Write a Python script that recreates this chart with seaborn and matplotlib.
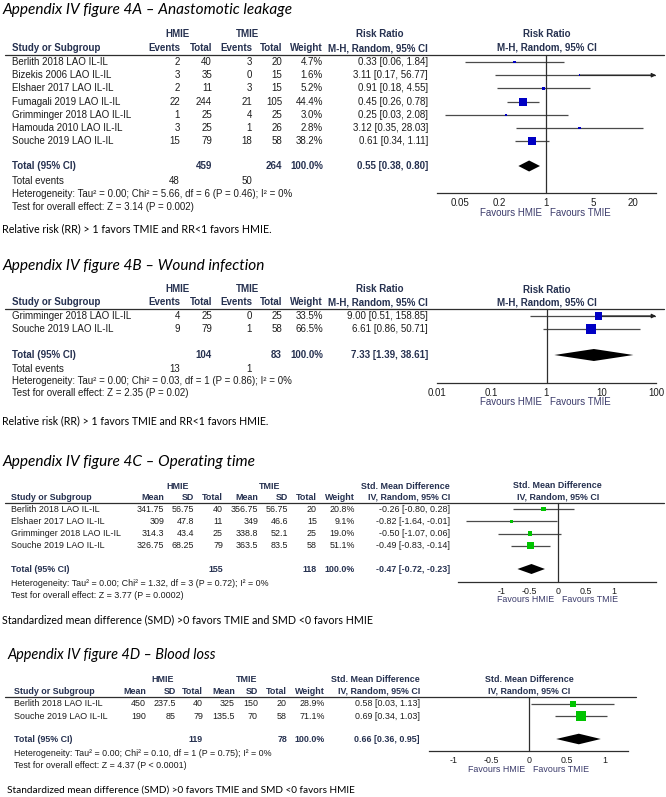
import matplotlib
matplotlib.use('Agg')
import matplotlib.pyplot as plt
from matplotlib.transforms import offset_copy
import seaborn as sns
import pandas as pd

sns.set_style('white')

W, H = 666, 797

# ---------------- 4A anastomotic leakage (risk ratio)
a_studies = ['Berlith 2018 LAO IL-IL', 'Bizekis 2006 LAO IL-IL', 'Elshaer 2017 LAO IL-IL',
             'Fumagali 2019 LAO IL-IL', 'Grimminger 2018 LAO IL-IL', 'Hamouda 2010 LAO IL-IL',
             'Souche 2019 LAO IL-IL']
a_hmie_events = [2, 3, 2, 22, 1, 3, 15]
a_hmie_total = [40, 35, 11, 244, 25, 25, 79]
a_tmie_events = [3, 0, 3, 21, 4, 1, 18]
a_tmie_total = [20, 15, 15, 105, 25, 26, 58]
a_weight = [4.7, 1.6, 5.2, 44.4, 3.0, 2.8, 38.2]
a_rr = [0.33, 3.11, 0.91, 0.45, 0.25, 3.12, 0.61]
a_lo = [0.06, 0.17, 0.18, 0.26, 0.03, 0.35, 0.34]
a_hi = [1.84, 56.77, 4.55, 0.78, 2.08, 28.03, 1.11]
a_pooled = [0.55, 0.38, 0.80]
a_sum_total = [459, 264]
a_sum_events = [48, 50]
a_het = 'Heterogeneity: Tau² = 0.00; Chi² = 5.66, df = 6 (P = 0.46); I² = 0%'
a_test = 'Test for overall effect: Z = 3.14 (P = 0.002)'
a_ticks = [0.05, 0.2, 1, 5, 20]
a_ticklabels = ['0.05', '0.2', '1', '5', '20']

# ---------------- 4B wound infection (risk ratio)
b_studies = ['Grimminger 2018 LAO IL-IL', 'Souche 2019 LAO IL-IL']
b_hmie_events = [4, 9]
b_hmie_total = [25, 79]
b_tmie_events = [0, 1]
b_tmie_total = [25, 58]
b_weight = [33.5, 66.5]
b_rr = [9.00, 6.61]
b_lo = [0.51, 0.86]
b_hi = [158.85, 50.71]
b_pooled = [7.33, 1.39, 38.61]
b_sum_total = [104, 83]
b_sum_events = [13, 1]
b_het = 'Heterogeneity: Tau² = 0.00; Chi² = 0.03, df = 1 (P = 0.86); I² = 0%'
b_test = 'Test for overall effect: Z = 2.35 (P = 0.02)'
b_ticks = [0.01, 0.1, 1, 10, 100]
b_ticklabels = ['0.01', '0.1', '1', '10', '100']

# ---------------- 4C operating time (SMD)
c_studies = ['Berlith 2018 LAO IL-IL', 'Elshaer 2017 LAO IL-IL',
             'Grimminger 2018 LAO IL-IL', 'Souche 2019 LAO IL-IL']
c_hmie_mean = [341.75, 309, 314.3, 326.75]
c_hmie_sd = [56.75, 47.8, 43.4, 68.25]
c_hmie_n = [40, 11, 25, 79]
c_tmie_mean = [356.75, 349, 338.8, 363.5]
c_tmie_sd = [56.75, 46.6, 52.1, 83.5]
c_tmie_n = [20, 15, 25, 58]
c_weight = [20.8, 9.1, 19.0, 51.1]
c_smd = [-0.26, -0.82, -0.50, -0.49]
c_lo = [-0.80, -1.64, -1.07, -0.83]
c_hi = [0.28, -0.01, 0.06, -0.14]
c_pooled = [-0.47, -0.72, -0.23]
c_sum_total = [155, 118]
c_het = 'Heterogeneity: Tau² = 0.00; Chi² = 1.32, df = 3 (P = 0.72); I² = 0%'
c_test = 'Test for overall effect: Z = 3.77 (P = 0.0002)'

# ---------------- 4D blood loss (SMD)
d_studies = ['Berlith 2018 LAO IL-IL', 'Souche 2019 LAO IL-IL']
d_hmie_mean = [450, 190]
d_hmie_sd = [237.5, 85]
d_hmie_n = [40, 79]
d_tmie_mean = [325, 135.5]
d_tmie_sd = [150, 70]
d_tmie_n = [20, 58]
d_weight = [28.9, 71.1]
d_smd = [0.58, 0.69]
d_lo = [0.03, 0.34]
d_hi = [1.13, 1.03]
d_pooled = [0.66, 0.36, 0.95]
d_sum_total = [119, 78]
d_het = 'Heterogeneity: Tau² = 0.00; Chi² = 0.10, df = 1 (P = 0.75); I² = 0%'
d_test = 'Test for overall effect: Z = 4.37 (P < 0.0001)'

smd_ticks = [-1, -0.5, 0, 0.5, 1]
smd_ticklabels = ['-1', '-0.5', '0', '0.5', '1']

RR_NOTE = 'Relative risk (RR) > 1 favors TMIE and RR<1 favors HMIE.'
SMD_NOTE = 'Standardized mean difference (SMD) >0 favors TMIE and SMD <0 favors HMIE'

INK = '#1c1c1c'
NAVY = '#263150'
FAV = '#3b3b6b'
LINE = '#2e2e2e'
BLUE = '#0000c4'
GREEN = '#00c400'

fig = plt.figure(figsize=(W / 100, H / 100), dpi=100)
bg = fig.add_axes([0, 0, 1, 1])
bg.set_xlim(0, W)
bg.set_ylim(H, 0)
bg.axis('off')
renderer = fig.canvas.get_renderer()


def txt(x, y, s, size, ha='left', bold=False, color=None):
    return bg.text(x, y, s, ha=ha, va='center', fontsize=size, family='Liberation Sans',
                   fontweight='bold' if bold else 'normal',
                   color=color or (NAVY if bold else INK))


def caption(x, y, s, width, italic=False):
    # Calibri is not available: scale Lato so the line keeps the original width
    t = bg.text(x, y, s, va='center', family='Lato', fontsize=10,
                style='italic' if italic else 'normal', color='black')
    w = t.get_window_extent(renderer).width
    t.set_fontsize(10 * width / w)


def ci(e, lo, hi):
    return f'{e:.2f} [{lo:.2f}, {hi:.2f}]'


def table(rows, rows_y, study_x, xs, size, bold=False):
    for r, y in zip(rows, rows_y):
        txt(study_x, y, r[0], size, bold=bold)
        for s, x in zip(r[1:], xs):
            if s != '':
                txt(x, y, s, size, ha='right', bold=bold)


def forest(x0, x1, y_top, y_axis, xlim, log, ref, rows_y, est, lo, hi, weight,
           pooled, pooled_y, color, box_px, dia_px, ticks, ticklabels, size,
           head1, head2, head_y, fav_y):
    ax = fig.add_axes([x0 / W, 1 - y_axis / H, (x1 - x0) / W, (y_axis - y_top) / H])
    ax.set_facecolor('none')
    if log:
        ax.set_xscale('log')
    for s in ['top', 'left', 'right']:
        ax.spines[s].set_visible(False)
    ax.spines['bottom'].set_color(LINE)
    ax.spines['bottom'].set_linewidth(0.9)

    lo_c = [max(v, xlim[0]) for v in lo]
    hi_c = [min(v, xlim[1]) for v in hi]
    ax.hlines(rows_y, lo_c, hi_c, color='#4a4a4a', lw=0.9, zorder=2)
    for y, e, v in zip(rows_y, est, hi):
        if v > xlim[1]:
            ax.annotate('', xy=(xlim[1], y), xytext=(e, y),
                        arrowprops=dict(arrowstyle='-|>', color='#222222', lw=0.9,
                                        mutation_scale=6, shrinkA=0, shrinkB=0))

    df = pd.DataFrame({'est': est, 'y': rows_y, 'w': weight})
    sns.scatterplot(data=df, x='est', y='y', size='w', sizes=(0.4, (box_px * 0.72) ** 2),
                    size_norm=(0, max(weight)), marker='s', color=color, edgecolor='none',
                    linewidth=0, legend=False, ax=ax, zorder=3, clip_on=False)

    e, l, h = pooled
    ax.fill([l, e, h, e], [pooled_y, pooled_y - dia_px, pooled_y, pooled_y + dia_px],
            color='black', lw=0, zorder=3)

    # line of no effect, from the header rule down to the axis
    ax.plot([ref, ref], [y_axis, y_top], color=LINE, lw=0.9, zorder=2.5, clip_on=False)

    ax.set_xlim(xlim)
    ax.set_ylim(y_axis, y_top)
    ax.set_xticks(ticks, ticklabels)
    ax.minorticks_off()
    ax.set_yticks([])
    ax.set_xlabel('')
    ax.set_ylabel('')
    ax.tick_params(axis='x', direction='inout', length=5, width=0.8, color=LINE,
                   labelsize=size, labelcolor=INK, pad=1)
    for lab in ax.get_xticklabels():
        lab.set_family('Liberation Sans')

    for s, y in zip([head1, head2], head_y):
        ax.text(ref, y, s, ha='center', va='center', fontsize=size, fontweight='bold',
                family='Liberation Sans', color=NAVY, clip_on=False)
    left = offset_copy(ax.transData, fig=fig, x=-4, y=0, units='dots')
    right = offset_copy(ax.transData, fig=fig, x=4, y=0, units='dots')
    ax.text(ref, fav_y, 'Favours HMIE', ha='right', va='center', fontsize=size,
            family='Liberation Sans', color=FAV, transform=left, clip_on=False)
    ax.text(ref, fav_y, 'Favours TMIE', ha='left', va='center', fontsize=size,
            family='Liberation Sans', color=FAV, transform=right, clip_on=False)
    return ax


# ======================= panel A
fs = 7
caption(3, 10, 'Appendix IV figure 4A – Anastomotic leakage', 290, italic=True)
xs = [180, 212, 252, 282, 323, 428]
txt(178, 34, 'HMIE', fs, ha='center', bold=True)
txt(248, 34, 'TMIE', fs, ha='center', bold=True)
txt(380, 34, 'Risk Ratio', fs, ha='center', bold=True)
table([['Study or Subgroup', 'Events', 'Total', 'Events', 'Total', 'Weight',
        'M-H, Random, 95% CI']], [48], 12, xs, fs, bold=True)
bg.plot([5, 664], [55, 55], color=LINE, lw=0.9)
rows_y = [62 + 13.2 * i for i in range(len(a_studies))]
table([[s, str(a), str(b), str(c), str(d), f'{w:.1f}%', ci(e, l, h)]
       for s, a, b, c, d, w, e, l, h in zip(a_studies, a_hmie_events, a_hmie_total,
                                             a_tmie_events, a_tmie_total, a_weight,
                                             a_rr, a_lo, a_hi)], rows_y, 12, xs, fs)
table([['Total (95% CI)', '', str(a_sum_total[0]), '', str(a_sum_total[1]), '100.0%',
        ci(*a_pooled)]], [166], 12, xs, fs, bold=True)
table([['Total events', str(a_sum_events[0]), '', str(a_sum_events[1])]], [181], 12, xs, fs)
txt(12, 194, a_het, fs)
txt(12, 207, a_test, fs)
caption(2, 229, RR_NOTE, 266)
forest(437, 656, 55, 193, (0.023, 43.6), True, 1, rows_y, a_rr, a_lo, a_hi, a_weight,
       a_pooled, 166, BLUE, 8, 5.5, a_ticks, a_ticklabels, fs,
       'Risk Ratio', 'M-H, Random, 95% CI', [34, 48], 213)

# ======================= panel B
caption(3, 266, 'Appendix IV figure 4B – Wound infection', 263, italic=True)
txt(178, 289, 'HMIE', fs, ha='center', bold=True)
txt(248, 289, 'TMIE', fs, ha='center', bold=True)
txt(380, 289, 'Risk Ratio', fs, ha='center', bold=True)
table([['Study or Subgroup', 'Events', 'Total', 'Events', 'Total', 'Weight',
        'M-H, Random, 95% CI']], [302], 12, xs, fs, bold=True)
bg.plot([5, 664], [309, 309], color=LINE, lw=0.9)
rows_y = [316 + 13.4 * i for i in range(len(b_studies))]
table([[s, str(a), str(b), str(c), str(d), f'{w:.1f}%', ci(e, l, h)]
       for s, a, b, c, d, w, e, l, h in zip(b_studies, b_hmie_events, b_hmie_total,
                                             b_tmie_events, b_tmie_total, b_weight,
                                             b_rr, b_lo, b_hi)], rows_y, 12, xs, fs)
table([['Total (95% CI)', '', str(b_sum_total[0]), '', str(b_sum_total[1]), '100.0%',
        ci(*b_pooled)]], [355], 12, xs, fs, bold=True)
table([['Total events', str(b_sum_events[0]), '', str(b_sum_events[1])]], [369], 12, xs, fs)
txt(12, 381, b_het, fs)
txt(12, 393, b_test, fs)
caption(2, 421, RR_NOTE, 265)
forest(437, 656, 309, 383, (0.01, 100), True, 1, rows_y, b_rr, b_lo, b_hi, b_weight,
       b_pooled, 355, BLUE, 10, 6, b_ticks, b_ticklabels, fs,
       'Risk Ratio', 'M-H, Random, 95% CI', [290, 303], 402)

# ======================= panel C
fs = 6.4
caption(2, 462, 'Appendix IV figure 4C – Operating time', 253, italic=True)
xs = [164, 194, 223, 258, 288, 317, 355, 450]
txt(178, 486, 'HMIE', fs, ha='center', bold=True)
txt(270, 486, 'TMIE', fs, ha='center', bold=True)
txt(405, 486, 'Std. Mean Difference', fs, ha='center', bold=True)
table([['Study or Subgroup', 'Mean', 'SD', 'Total', 'Mean', 'SD', 'Total', 'Weight',
        'IV, Random, 95% CI']], [497], 11, xs, fs, bold=True)
bg.plot([5, 664], [503, 503], color=LINE, lw=0.9)
rows_y = [509 + 12.3 * i for i in range(len(c_studies))]
table([[s, f'{a:g}', f'{b:g}', str(c), f'{d:g}', f'{e2:g}', str(f), f'{w:.1f}%', ci(e, l, h)]
       for s, a, b, c, d, e2, f, w, e, l, h in zip(c_studies, c_hmie_mean, c_hmie_sd, c_hmie_n,
                                                   c_tmie_mean, c_tmie_sd, c_tmie_n, c_weight,
                                                   c_smd, c_lo, c_hi)], rows_y, 11, xs, fs)
table([['Total (95% CI)', '', '', str(c_sum_total[0]), '', '', str(c_sum_total[1]), '100.0%',
        ci(*c_pooled)]], [569], 11, xs, fs, bold=True)
txt(11, 583, c_het, fs)
txt(11, 595, c_test, fs)
caption(2, 620, SMD_NOTE, 368)
forest(458, 656, 503, 582, (-1.78, 1.75), False, 0, rows_y, c_smd, c_lo, c_hi, c_weight,
       c_pooled, 569, GREEN, 7, 5, smd_ticks, smd_ticklabels, fs,
       'Std. Mean Difference', 'IV, Random, 95% CI', [486, 497], 600)

# ======================= panel D
caption(7, 655, 'Appendix IV figure 4D – Blood loss', 210, italic=True)
xs = [146, 176, 203, 235, 258, 287, 325, 420]
txt(163, 679, 'HMIE', fs, ha='center', bold=True)
txt(247, 679, 'TMIE', fs, ha='center', bold=True)
txt(375, 679, 'Std. Mean Difference', fs, ha='center', bold=True)
table([['Study or Subgroup', 'Mean', 'SD', 'Total', 'Mean', 'SD', 'Total', 'Weight',
        'IV, Random, 95% CI']], [691], 14, xs, fs, bold=True)
bg.plot([5, 636], [697, 697], color=LINE, lw=0.9)
rows_y = [704 + 12.3 * i for i in range(len(d_studies))]
table([[s, f'{a:g}', f'{b:g}', str(c), f'{d:g}', f'{e2:g}', str(f), f'{w:.1f}%', ci(e, l, h)]
       for s, a, b, c, d, e2, f, w, e, l, h in zip(d_studies, d_hmie_mean, d_hmie_sd, d_hmie_n,
                                                   d_tmie_mean, d_tmie_sd, d_tmie_n, d_weight,
                                                   d_smd, d_lo, d_hi)], rows_y, 14, xs, fs)
table([['Total (95% CI)', '', '', str(d_sum_total[0]), '', '', str(d_sum_total[1]), '100.0%',
        ci(*d_pooled)]], [739], 14, xs, fs, bold=True)
txt(14, 753, d_het, fs)
txt(14, 765, d_test, fs)
caption(7, 790, SMD_NOTE, 349)
forest(429, 628, 697, 751, (-1.32, 1.31), False, 0, rows_y, d_smd, d_lo, d_hi, d_weight,
       d_pooled, 739, GREEN, 10, 5.3, smd_ticks, smd_ticklabels, fs,
       'Std. Mean Difference', 'IV, Random, 95% CI', [679, 691], 769)

fig.savefig('out.png', dpi=100)
